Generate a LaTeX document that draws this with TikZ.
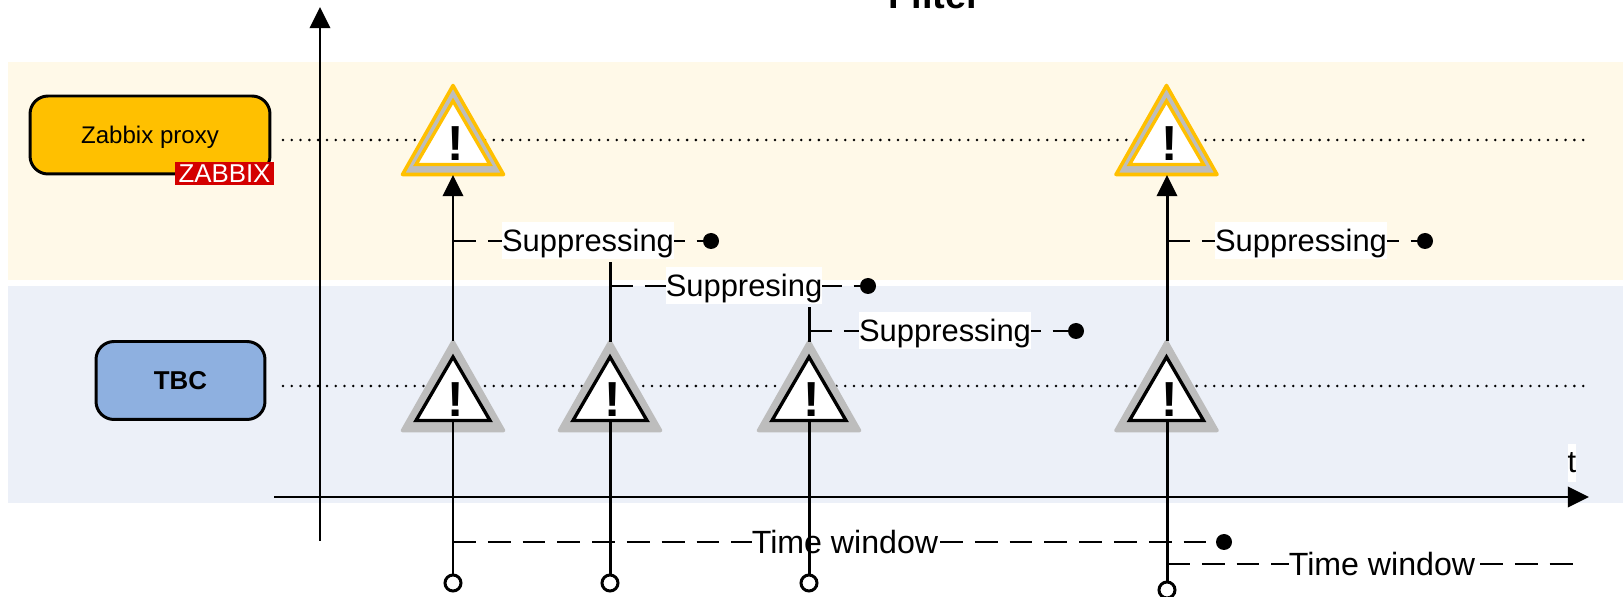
\documentclass[tikz,border=0pt]{standalone}
\usepackage{fontspec}
\setmainfont{Liberation Sans}
\usetikzlibrary{arrows.meta}
\definecolor{bandyellow}{HTML}{FFF9E8}
\definecolor{bandblue}{HTML}{ECF0F8}
\definecolor{proxyfill}{HTML}{FFC000}
\definecolor{tbcfill}{HTML}{8EB0E0}
\definecolor{signgray}{HTML}{BDBDBD}
\definecolor{zabbixred}{HTML}{D40000}
\tikzset{
    axis/.style={line width=1.7pt,-{Triangle[length=12pt,width=11.5pt]}},
    stem/.style={line width=1.7pt},
    level/.style={line width=1.6pt,line cap=round,dash pattern=on 0pt off 5pt},
    span/.style={line width=1.7pt,dash pattern=on 13pt off 6.8pt},
    spantext/.style={fill=white,inner sep=0pt,minimum height=.74cm,text depth=0pt,font=\fontsize{17.6}{20}\selectfont},
    wintext/.style={spantext,font=\fontsize{18.3}{20}\selectfont},
    hostbox/.style={draw,line width=1.7pt,rounded corners=.36cm,minimum height=1.56cm},
    openend/.style={circle,draw,fill=white,line width=1.7pt,inner sep=0pt,minimum size=.32cm},
    fullend/.style={circle,fill=black,inner sep=0pt,minimum size=.32cm},
}
\newcommand{\signshape}[3]{
    \begin{scope}[shift={(#1)}]
        \draw[fill=signgray,draw=#2,line width=2pt,line join=round] (-50.5,-1.5) -- (0,-90.5) -- (50.5,-1.5) -- cycle;
        \draw[fill=white,draw=#3,line width=1.9pt] (-37,-11.5) -- (0,-75) -- (37,-11.5) -- cycle;
        \node[font=\bfseries\fontsize{28}{30}\selectfont,inner sep=0pt] at (3,-32) {!};
    \end{scope}
}

\begin{document}
\begin{tikzpicture}[x=.02cm,y=-.02cm]
    \useasboundingbox (0,0) rectangle (1623,597);
    \clip (0,0) rectangle (1623,597);
    % bands
    \fill[bandyellow] (8,62) rectangle (1623,280);
    \fill[bandblue] (8,286) rectangle (1623,503);
    \node[font=\bfseries\fontsize{21.6}{24}\selectfont,anchor=base] (title) at (935,9) {Filter};

    \coordinate (levela) at (283,140);
    \coordinate (levelb) at (1587,140);
    \coordinate (levelc) at (283,386);
    \coordinate (leveld) at (1587,386);
    \draw[level] (levela) to (levelb);
    \draw[level] (levelc) to (leveld);

    % hosts
    \node[hostbox,fill=proxyfill,minimum width=4.8cm,text depth=0pt,font=\fontsize{13.7}{16}\selectfont] (proxy) at (150,135) {Zabbix proxy};
    \node[fill=zabbixred,text=white,inner sep=0pt,minimum width=1.98cm,minimum height=.46cm,font=\fontsize{14.7}{16}\selectfont] (zabbix) at (224.5,173.5) {ZABBIX};
    \node[hostbox,fill=tbcfill,minimum width=3.38cm,font=\bfseries\fontsize{14.7}{16}\selectfont] (tbc) at (180.5,380.5) {TBC};

    % axes
    \coordinate (ybottom) at (320,541);
    \coordinate (ytop) at (320,7);
    \coordinate (xleft) at (274,497);
    \coordinate (xright) at (1589,497);
    \draw[axis] (ybottom) to (ytop);
    \draw[axis] (xleft) to (xright);
    \node[fill=white,inner sep=0pt,minimum height=.76cm,font=\fontsize{17.6}{20}\selectfont] (tlabel) at (1572,463) {t};

    % signs
    \signshape{453,176}{proxyfill}{proxyfill}
    \signshape{1166.5,176}{proxyfill}{proxyfill}
    \signshape{453,432}{signgray}{black}
    \signshape{610,432}{signgray}{black}
    \signshape{809,432}{signgray}{black}
    \signshape{1166.5,432}{signgray}{black}

    % suppression and time window spans
    \coordinate (supa) at (453,241);
    \coordinate (supb) at (610,286);
    \coordinate (supc) at (809,331);
    \coordinate (supd) at (1167,241);
    \coordinate (wina) at (453,542);
    \coordinate (winb) at (1167,564);
    \coordinate (winbend) at (1580,564);
    \node[fullend] (supaend) at (711,241) {};
    \node[fullend] (supbend) at (868,286) {};
    \node[fullend] (supcend) at (1076,331) {};
    \node[fullend] (supdend) at (1425,241) {};
    \node[fullend] (winaend) at (1224,542) {};
    \draw[span] (supa) to (supaend);
    \draw[span] (supb) to (supbend);
    \draw[span] (supc) to (supcend);
    \draw[span] (supd) to (supdend);
    \draw[span] (wina) to (winaend);
    \draw[span] (winb) to (winbend);
    \node[spantext] (supatext) at (588,240.5) {Suppressing};
    \node[spantext] (supbtext) at (744,285.5) {Suppresing};
    \node[spantext] (supctext) at (945,330.5) {Suppressing};
    \node[spantext] (supdtext) at (1301,240.5) {Suppressing};
    \node[wintext] (winatext) at (845,542) {Time window};
    \node[wintext] (winbtext) at (1382,564) {Time window};

    % event stems
    \node[openend] (eva) at (453,583) {};
    \node[openend] (evb) at (610,583) {};
    \node[openend] (evc) at (809,583) {};
    \node[openend] (evd) at (1167,590) {};
    \coordinate (basea) at (453,420);
    \coordinate (baseb) at (610,420);
    \coordinate (basec) at (809,420);
    \coordinate (based) at (1167,420);
    \draw[stem] (eva) to (basea);
    \draw[stem] (evb) to (baseb);
    \draw[stem] (evc) to (basec);
    \draw[stem] (evd) to (based);
    \coordinate (topa) at (453,341);
    \coordinate (topb) at (610,342);
    \coordinate (topc) at (809,342);
    \coordinate (topd) at (1167,341);
    \coordinate (proxya) at (453,175);
    \coordinate (proxyd) at (1167,175);
    \coordinate (stemb) at (610,262);
    \coordinate (stemc) at (809,307);
    \draw[axis] (topa) to (proxya);
    \draw[axis] (topd) to (proxyd);
    \draw[stem] (topb) to (stemb);
    \draw[stem] (topc) to (stemc);
\end{tikzpicture}
\end{document}
